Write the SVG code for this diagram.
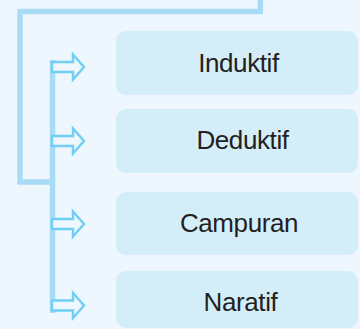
<svg xmlns="http://www.w3.org/2000/svg" width="360" height="329" viewBox="0 0 360 329">
<style>
.bg{fill:#edf7fd}
.box{fill:#d3edf9}
.lbl{font-family:"Liberation Sans",Arial,sans-serif;font-size:26px;letter-spacing:-0.4px;fill:#231f20;text-anchor:middle}
.line{fill:none;stroke:#a8dcf6;stroke-width:5.5}
.arr{fill:#edf7fd;stroke:#6fcff5;stroke-width:2.4;stroke-linejoin:miter}
</style>
<defs>
<polygon id="arrow" points="52,-5 73,-5 73,-12.5 84,0 73,12.5 73,5 52,5"/>
</defs>
<rect class="bg" x="0" y="0" width="360" height="329"/>
<g id="connectors">
<polyline class="line" points="260.3,0 260.3,11.5 20,11.5 20,182 52.5,182"/>
<line class="line" x1="52.5" y1="60" x2="52.5" y2="313"/>
<use href="#arrow" class="arr" y="67"/>
<use href="#arrow" class="arr" y="141"/>
<use href="#arrow" class="arr" y="224"/>
<use href="#arrow" class="arr" y="305.5"/>
</g>
<g id="induktif">
<rect class="box" x="116" y="31" width="242" height="64" rx="10"/>
<text class="lbl" x="238.5" y="71.7">Induktif</text>
</g>
<g id="deduktif">
<rect class="box" x="116" y="109" width="242" height="64" rx="10"/>
<text class="lbl" x="242.5" y="149.3">Deduktif</text>
</g>
<g id="campuran">
<rect class="box" x="116" y="192" width="242" height="63" rx="10"/>
<text class="lbl" x="239" y="231.7">Campuran</text>
</g>
<g id="naratif">
<rect class="box" x="116" y="271" width="242" height="57" rx="10"/>
<text class="lbl" x="240.5" y="310.7">Naratif</text>
</g>
</svg>
